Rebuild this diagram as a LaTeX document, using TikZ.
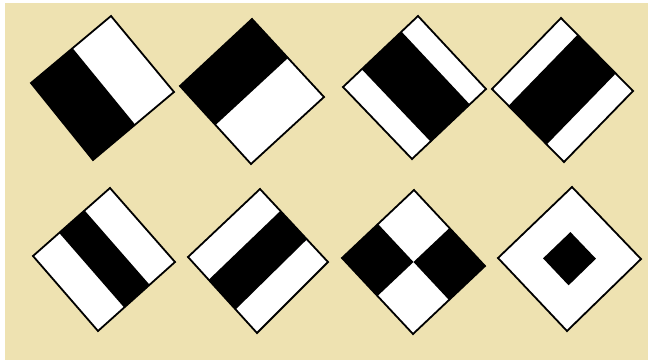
\documentclass[tikz,border=0pt]{standalone}
\usetikzlibrary{calc}
\definecolor{beige}{RGB}{238,226,177}
\tikzset{
  card/.style={fill=white},
  ink/.style={fill=black},
  rim/.style={draw=black,line width=1.8pt,line join=miter}
}
\begin{document}
\begin{tikzpicture}[x=1pt,y=-1pt]
\useasboundingbox (0,0) rectangle (648,360);
\fill[white] (0,0) rectangle (648,360);
\fill[beige] (5,3) rectangle (648,360);

% ---- shape 1
\coordinate (aL) at (31,83); \coordinate (aT) at (111,16);
\coordinate (aR) at (174,92); \coordinate (aB) at (93,160);
\fill[card] (aL)--(aT)--(aR)--(aB)--cycle;
\fill[ink] (aL)--($(aL)!0.52!(aT)$)--($(aB)!0.52!(aR)$)--(aB)--cycle;
\draw[rim] (aL)--(aT)--(aR)--(aB)--cycle;

% ---- shape 2
\coordinate (bL) at (180,86); \coordinate (bT) at (252,19);
\coordinate (bR) at (324,97); \coordinate (bB) at (251,164);
\fill[card] (bL)--(bT)--(bR)--(bB)--cycle;
\fill[ink] (bL)--(bT)--($(bT)!0.5!(bR)$)--($(bL)!0.5!(bB)$)--cycle;
\draw[rim] (bL)--(bT)--(bR)--(bB)--cycle;

% ---- shape 3
\coordinate (cL) at (343,87); \coordinate (cT) at (418,16);
\coordinate (cR) at (486,89); \coordinate (cB) at (412,159);
\fill[card] (cL)--(cT)--(cR)--(cB)--cycle;
\fill[ink] ($(cL)!0.25!(cT)$)--($(cL)!0.78!(cT)$)--($(cB)!0.78!(cR)$)--($(cB)!0.25!(cR)$)--cycle;
\draw[rim] (cL)--(cT)--(cR)--(cB)--cycle;

% ---- shape 4
\coordinate (dL) at (492,89); \coordinate (dT) at (561,18);
\coordinate (dR) at (633,91); \coordinate (dB) at (564,162);
\fill[card] (dL)--(dT)--(dR)--(dB)--cycle;
\fill[ink] ($(dT)!0.23!(dR)$)--($(dT)!0.76!(dR)$)--($(dL)!0.76!(dB)$)--($(dL)!0.23!(dB)$)--cycle;
\draw[rim] (dL)--(dT)--(dR)--(dB)--cycle;

% ---- shape 5
\coordinate (eL) at (33,256); \coordinate (eT) at (110,188);
\coordinate (eR) at (175,262); \coordinate (eB) at (98,331);
\fill[card] (eL)--(eT)--(eR)--(eB)--cycle;
\fill[ink] ($(eL)!0.34!(eT)$)--($(eL)!0.67!(eT)$)--($(eB)!0.67!(eR)$)--($(eB)!0.34!(eR)$)--cycle;
\draw[rim] (eL)--(eT)--(eR)--(eB)--cycle;

% ---- shape 6
\coordinate (fL) at (188,257); \coordinate (fT) at (260,189);
\coordinate (fR) at (328,262); \coordinate (fB) at (257,333);
\fill[card] (fL)--(fT)--(fR)--(fB)--cycle;
\fill[ink] ($(fT)!0.30!(fR)$)--($(fT)!0.69!(fR)$)--($(fL)!0.69!(fB)$)--($(fL)!0.30!(fB)$)--cycle;
\draw[rim] (fL)--(fT)--(fR)--(fB)--cycle;

% ---- shape 7
\coordinate (gL) at (342,258); \coordinate (gT) at (414,190);
\coordinate (gR) at (485,266); \coordinate (gB) at (413,334);
\coordinate (gC) at ($(gL)!0.5!(gR)$);
\fill[card] (gL)--(gT)--(gR)--(gB)--cycle;
\fill[ink] (gL)--($(gL)!0.5!(gT)$)--(gC)--($(gL)!0.5!(gB)$)--cycle;
\fill[ink] (gR)--($(gT)!0.5!(gR)$)--(gC)--($(gB)!0.5!(gR)$)--cycle;
\draw[rim] (gL)--(gT)--(gR)--(gB)--cycle;

% ---- shape 8
\coordinate (hL) at (498,258); \coordinate (hT) at (572,187);
\coordinate (hR) at (641,259); \coordinate (hB) at (567,331);
\coordinate (hC) at ($(hL)!0.5!(hR)$);
\fill[card] (hL)--(hT)--(hR)--(hB)--cycle;
\fill[ink] ($(hC)!0.37!(hL)$)--($(hC)!0.37!(hT)$)--($(hC)!0.37!(hR)$)--($(hC)!0.37!(hB)$)--cycle;
\draw[rim] (hL)--(hT)--(hR)--(hB)--cycle;
\end{tikzpicture}
\end{document}
